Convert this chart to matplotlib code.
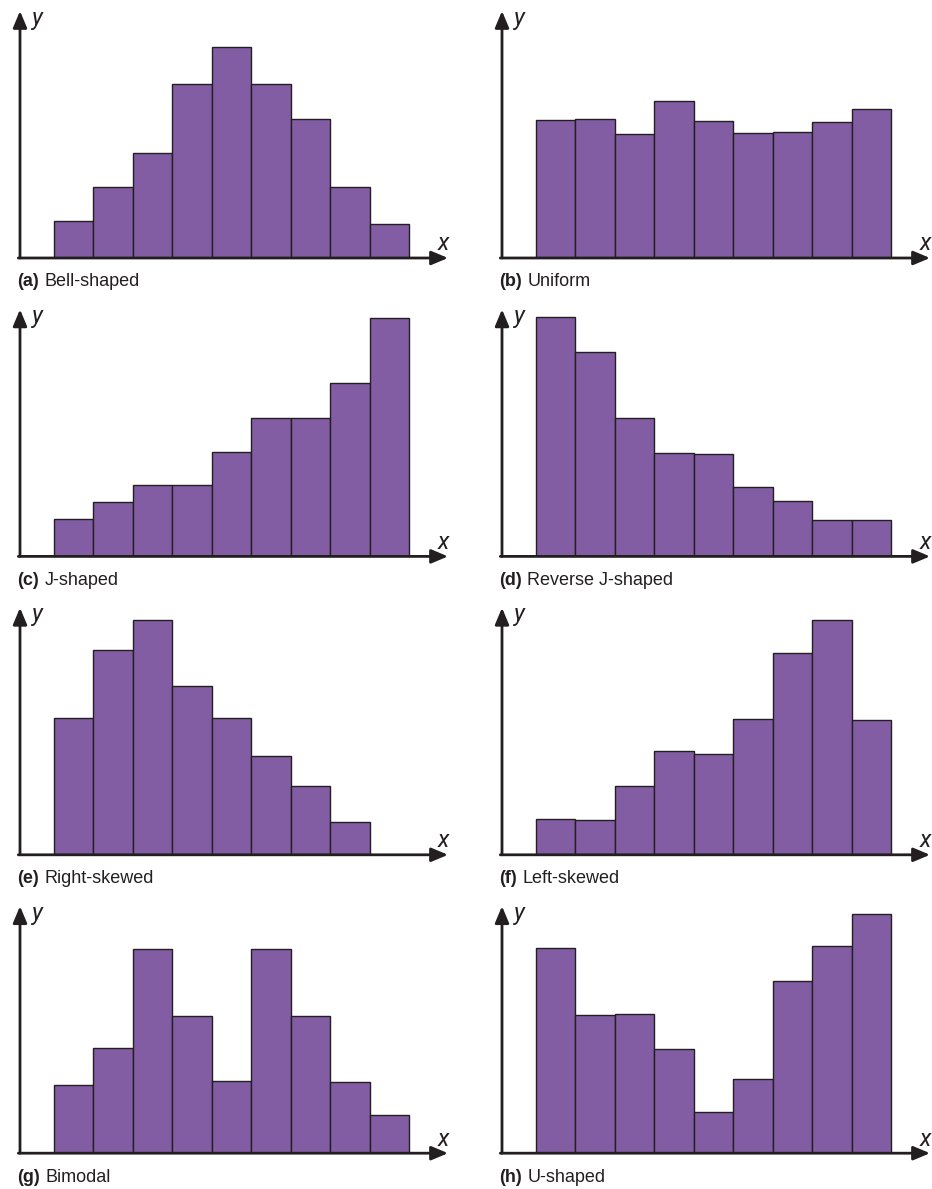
import matplotlib.pyplot as plt

# bar heights (arbitrary units, one list per shape)
bell = [37, 71, 105, 174, 211, 174, 139, 71, 34]
uniform = [138, 139, 124, 157, 137, 125, 126, 136, 149]
j_shaped = [37, 54, 71, 71, 104, 138, 138, 173, 238]
rev_j = [239, 204, 138, 103, 102, 69, 55, 36, 36]
right_skew = [137, 205, 235, 169, 137, 99, 69, 33]
left_skew = [36, 35, 69, 104, 101, 136, 202, 235, 135]
bimodal = [68, 105, 204, 137, 72, 204, 137, 71, 38]
u_shaped = [205, 138, 139, 104, 41, 74, 172, 207, 239]

tags = ['(a)', '(b)', '(c)', '(d)', '(e)', '(f)', '(g)', '(h)']
names = ['Bell-shaped', 'Uniform', 'J-shaped', 'Reverse J-shaped',
         'Right-skewed', 'Left-skewed', 'Bimodal', 'U-shaped']
heights = [bell, uniform, j_shaped, rev_j, right_skew, left_skew, bimodal, u_shaped]

bar_color = '#835DA4'
ink = '#231F20'
label_font = ['Liberation Sans Narrow', 'Liberation Sans', 'DejaVu Sans']
var_font = ['Roboto', 'DejaVu Sans']

W, H = 932, 1189
fig = plt.figure(figsize=(W / 100, H / 100), dpi=100)
fig.patch.set_facecolor('white')

arrow = dict(arrowstyle='-|>,head_length=1.0,head_width=0.42', color=ink,
             lw=2.0, shrinkA=0, shrinkB=0, mutation_scale=10)

for i, (tag, name, vals) in enumerate(zip(tags, names, heights)):
    row, col = divmod(i, 2)
    x0 = 20 + col * 482          # y axis position (px)
    base = 258 + row * 298.4     # x axis position (px)
    ax = fig.add_axes([x0 / W, 1 - base / H, 428 / W, 247 / H])
    ax.bar(range(len(vals)), vals, width=1, align='edge', color=bar_color,
           edgecolor=ink, linewidth=1.0, zorder=2)
    ax.set_xlim(-0.86, 9.975)
    ax.set_ylim(0, 247)
    ax.axis('off')

    # axes with arrow heads
    ax.annotate('', xy=(1, 0), xytext=(-0.004, 0), xycoords='axes fraction',
                arrowprops=arrow, annotation_clip=False, zorder=3)
    ax.annotate('', xy=(0, 1), xytext=(0, 0), xycoords='axes fraction',
                arrowprops=arrow, annotation_clip=False, zorder=3)

    # variable names
    fig.text((x0 + 17) / W, 1 - (base - 240) / H, 'y', family=var_font,
             fontweight='normal', style='italic', fontsize=17,
             ha='center', va='center', color=ink)
    fig.text((x0 + 423) / W, 1 - (base - 14) / H, 'x', family=var_font,
             fontweight='normal', style='italic', fontsize=17,
             ha='center', va='center', color=ink)

    # caption: bold tag + plain name
    t = fig.text((x0 - 3) / W, 1 - (base + 24) / H, tag, family=label_font,
                 fontweight='bold', fontsize=13, va='center', ha='left', color=ink)
    ax.annotate(name, xy=(1, 0.5), xycoords=t, xytext=(4, 0),
                textcoords='offset points', va='center', ha='left',
                family=label_font, fontsize=13, color=ink, annotation_clip=False)

fig.savefig('out.png', dpi=100, facecolor='white')
